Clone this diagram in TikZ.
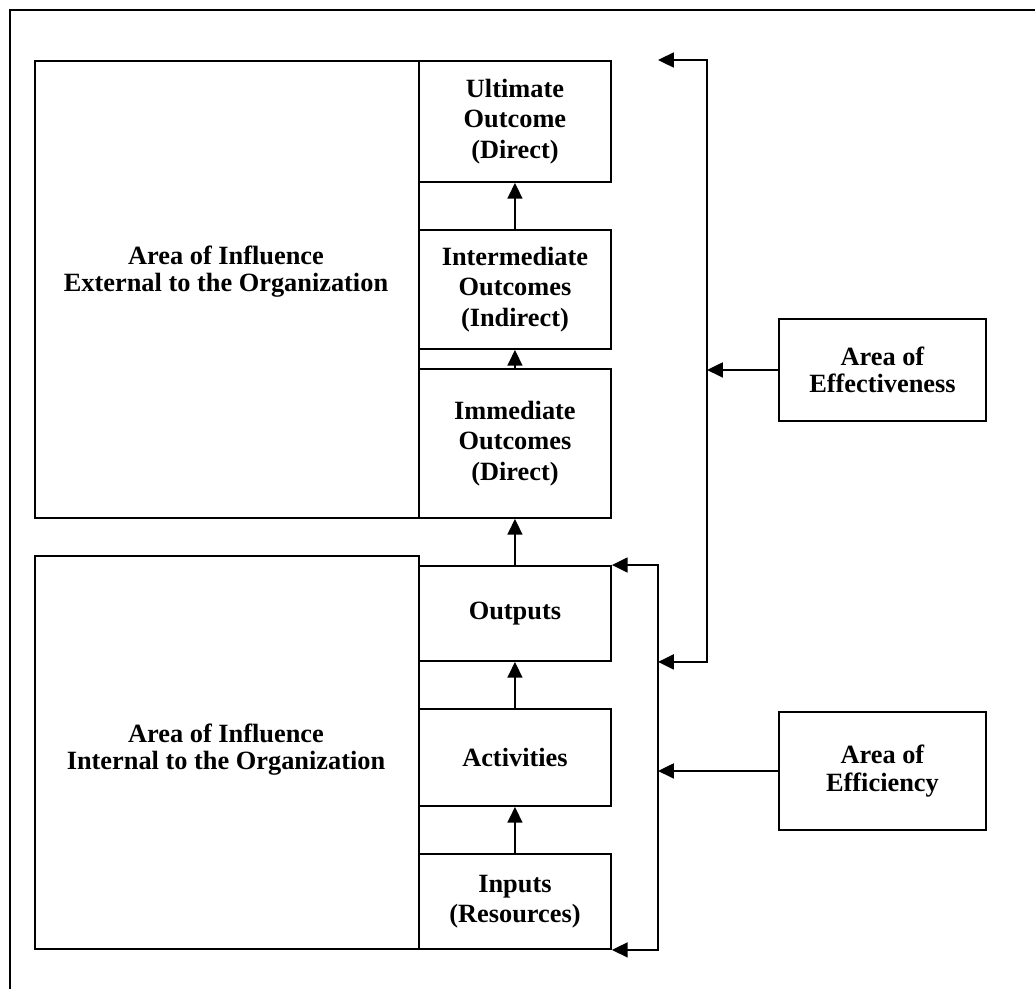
\documentclass[tikz,border=0pt]{standalone}
\usepackage{fontspec}
\setmainfont{Liberation Serif}
\usetikzlibrary{arrows.meta}
\begin{document}
\begin{tikzpicture}[x=0.02cm,y=-0.02cm,line width=1.1pt,
  box/.style={draw,rectangle,inner sep=0pt,anchor=north west,align=center,font=\fontsize{15pt}{15.5pt}\selectfont\bfseries},
  colbox/.style={box,minimum width=3.84cm,font=\fontsize{15pt}{17.3pt}\selectfont\bfseries},
  label/.style={align=center,font=\fontsize{15pt}{15.5pt}\selectfont\bfseries},
  tip/.style={-{Triangle[length=9pt,width=8.5pt]}},
  tips/.style={{Triangle[length=9pt,width=8.5pt]}-{Triangle[length=9pt,width=8.5pt]}}]
\useasboundingbox (0,0) rectangle (1035,988);
\draw[line width=1pt](1040,10)--(10,10)--(10,993);

%%%------------------------------------------------------------------------------------------------------------
\node[box,minimum width=7.68cm,minimum height=9.14cm] (extbox) at (34,60) {};
\node[label] (extlabel) at (226,272) {Area of Influence\\External to the Organization};
\node[colbox,minimum height=2.42cm] (ultimate) at (418,60) {Ultimate\\Outcome\\(Direct)};
\node[colbox,minimum height=2.38cm] (intermed) at (418,229) {Intermediate\\Outcomes\\(Indirect)};
\node[colbox,minimum height=2.98cm] (immed) at (418,368) {Immediate\\Outcomes\\(Direct)};

%%%------------------------------------------------------------------------------------------------------------
\node[box,minimum width=7.68cm,minimum height=7.86cm] (intbox) at (34,555) {};
\node[label] (intlabel) at (226,750) {Area of Influence\\Internal to the Organization};
\node[colbox,minimum height=1.9cm] (outputs) at (418,565) {Outputs};
\node[colbox,minimum height=1.94cm] (activ) at (418,708) {Activities};
\node[colbox,minimum height=1.9cm] (inputs) at (418,853) {Inputs\\(Resources)};

%%%------------------------------------------------------------------------------------------------------------
\node[box,minimum width=4.14cm,minimum height=2.04cm] (effect) at (778,318) {Area of\\Effectiveness};
\node[box,minimum width=4.14cm,minimum height=2.36cm] (effic) at (778,711) {Area of\\Efficiency};

\draw[tip](immed.north)--(intermed.south);
\draw[tip](intermed.north)--(ultimate.south);
\draw[tip](outputs.north)--(immed.south);
\draw[tip](activ.north)--(outputs.south);
\draw[tip](inputs.north)--(activ.south);

\coordinate (spine) at (658,0);
\coordinate (ridge) at (707,0);
\coordinate (topend) at (658,60);
\draw[tips](outputs.north east)--(outputs.north east -| spine)--(inputs.south east -| spine)--(inputs.south east);
\draw[tips](topend)--(topend -| ridge)--(outputs.south -| ridge)--(outputs.south -| spine);
\draw[tip](effect.west)--(effect.west -| ridge);
\draw[tip](effic.west)--(effic.west -| spine);
\end{tikzpicture}
\end{document}
